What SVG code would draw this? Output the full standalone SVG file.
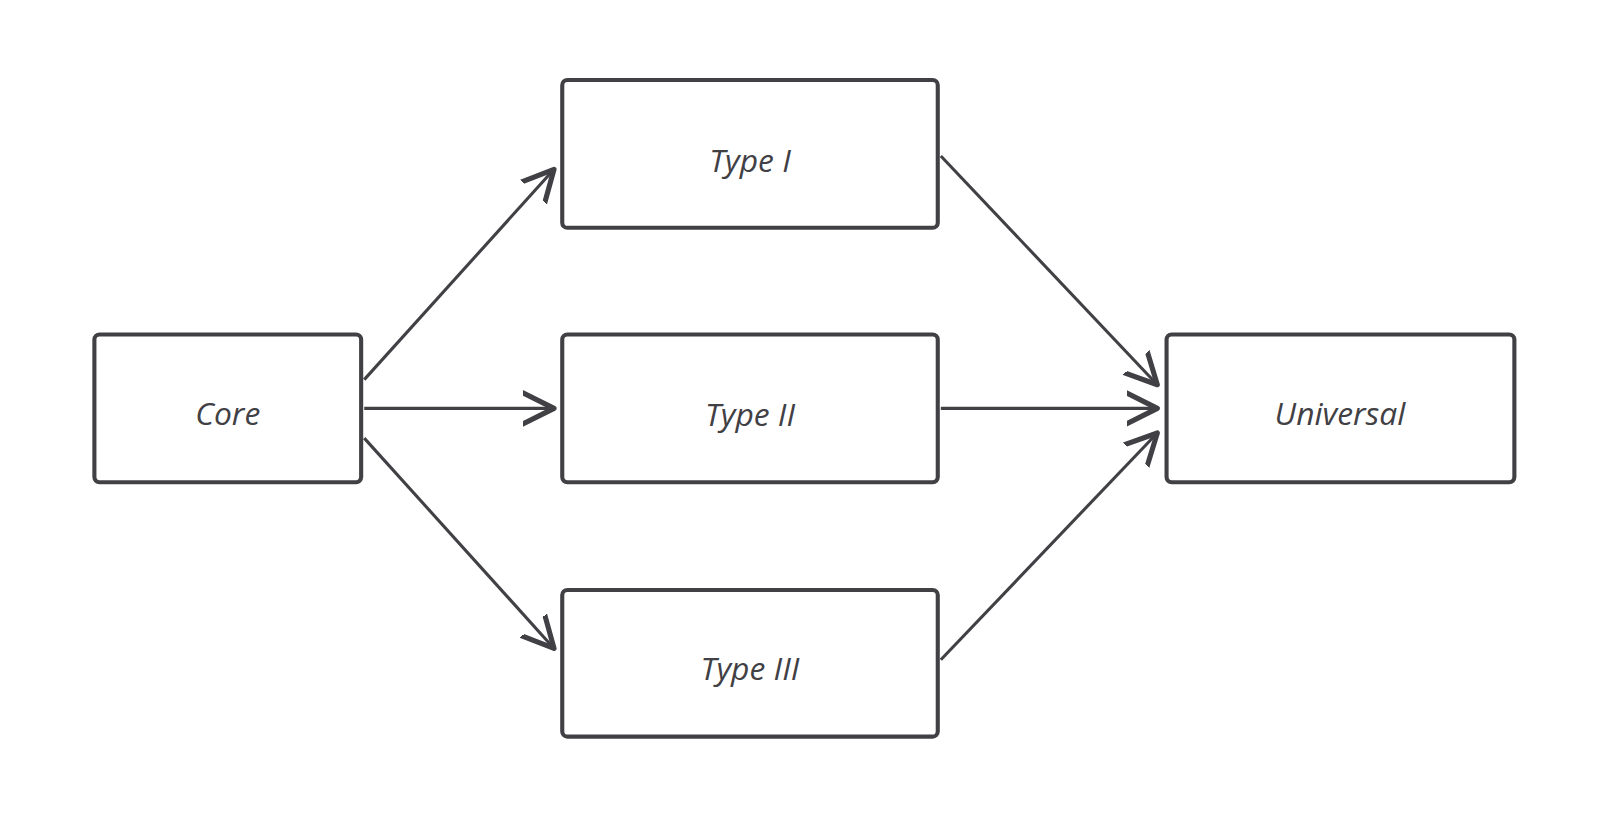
<svg xmlns="http://www.w3.org/2000/svg" width="1600" height="827" viewBox="0 0 1600 827">
<style>
.box{fill:#fff;stroke:#414045;stroke-width:4}
.lbl{font-family:"Comic Sans MS","Open Sans",sans-serif;font-size:31px;fill:#414045;text-anchor:middle;dominant-baseline:central;font-style:italic}
.edge{stroke:#414045;stroke-width:3;fill:none;marker-end:url(#arr)}
</style>
<defs>
<marker id="arr" markerUnits="userSpaceOnUse" markerWidth="60" markerHeight="60" refX="0" refY="0" viewBox="-30 -30 60 60" orient="auto">
<path d="M-38,-19 L0,0 L-38,19" fill="none" stroke="#414045" stroke-width="5" stroke-linecap="round" stroke-linejoin="round"/>
</marker>
</defs>
<rect width="1600" height="827" fill="#fff"/>
<g transform="scale(1.026)">
<g id="connectors">
<line class="edge" x1="355" y1="370" x2="540" y2="165"/>
<line class="edge" x1="355" y1="398" x2="540" y2="398"/>
<line class="edge" x1="355" y1="427" x2="540" y2="632"/>
<line class="edge" x1="917" y1="152" x2="1128" y2="375"/>
<line class="edge" x1="917" y1="398" x2="1128" y2="398"/>
<line class="edge" x1="917" y1="643" x2="1128" y2="422"/>
</g>
<g id="core"><rect class="box" x="92" y="326" width="260" height="144" rx="5"/><text class="lbl" x="222" y="402">Core</text></g>
<g id="type1"><rect class="box" x="548" y="78" width="366" height="144" rx="5"/><text class="lbl" x="731" y="155">Type I</text></g>
<g id="type2"><rect class="box" x="548" y="326" width="366" height="144" rx="5"/><text class="lbl" x="731" y="403">Type II</text></g>
<g id="type3"><rect class="box" x="548" y="575" width="366" height="143" rx="5"/><text class="lbl" x="731" y="651">Type III</text></g>
<g id="universal"><rect class="box" x="1137" y="326" width="339" height="144" rx="5"/><text class="lbl" x="1306" y="402">Universal</text></g>
</g>
</svg>
